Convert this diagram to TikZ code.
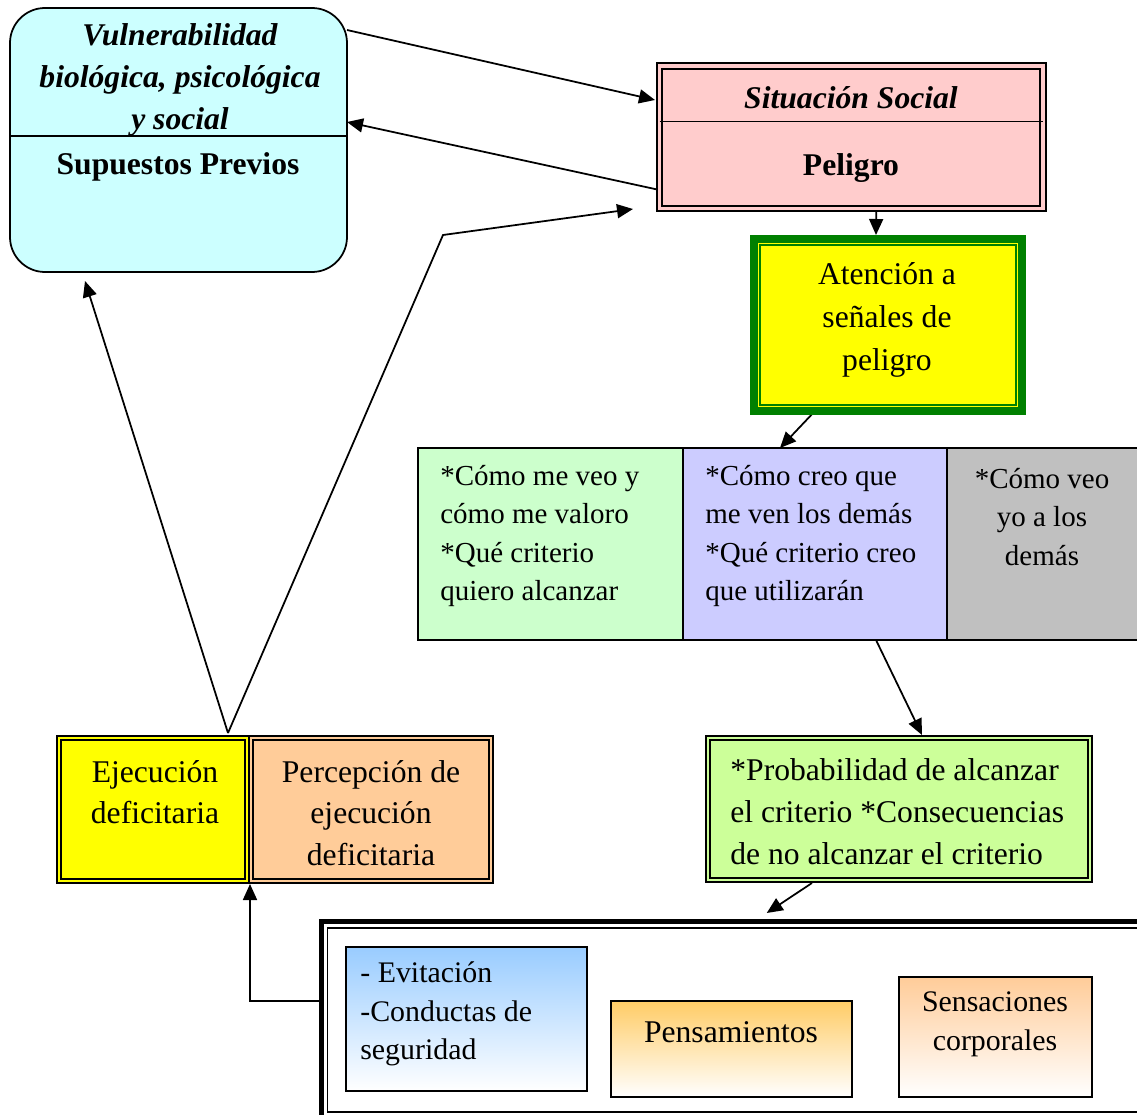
\documentclass[tikz,border=0pt]{standalone}
\usepackage{fontspec}
\setmainfont{Liberation Serif}
\usetikzlibrary{arrows.meta,calc}

\definecolor{vulnfill}{HTML}{CCFFFF}
\definecolor{socialfill}{HTML}{FFCCCC}
\definecolor{attnyellow}{HTML}{FFFF00}
\definecolor{attngreen}{HTML}{008000}
\definecolor{selffill}{HTML}{CCFFCC}
\definecolor{othersfill}{HTML}{CCCCFF}
\definecolor{viewfill}{HTML}{C0C0C0}
\definecolor{probfill}{HTML}{CCFF99}
\definecolor{execfill}{HTML}{FFFF00}
\definecolor{percfill}{HTML}{FFCC99}
\definecolor{avoidtop}{HTML}{99CCFF}
\definecolor{thinktop}{HTML}{FFCC66}
\definecolor{bodytop}{HTML}{FFCC99}

\pgfdeclarelayer{conn}
\pgfsetlayers{conn,main}

\begin{document}
\begin{tikzpicture}[x=0.02cm,y=-0.02cm,
  sz/.style 2 args={minimum width=#1*0.02cm,minimum height=#2*0.02cm},
  plainbox/.style={draw=black,line width=1pt,inner sep=0pt,outer sep=0pt},
  dblbox/.style={draw=black,fill=#1,double=#1,line width=1.2pt,
    double distance=0.065cm,inner sep=0pt,outer sep=0pt},
  gradbox/.style={draw=black,line width=0.9pt,top color=#1,bottom color=white,
    inner sep=0pt,outer sep=0pt},
  link/.style={draw=black,line width=1pt,
    -{Triangle[length=0.32cm,width=0.28cm]}},
  lbl/.style={font=\fontsize{18}{24}\selectfont,align=center,inner sep=0pt},
  lblsmall/.style={font=\fontsize{16.5}{22}\selectfont,inner sep=0pt},
]
\useasboundingbox (0,0) rectangle (1137,1115);
\clip (0,0) rectangle (1137,1115);

% ---- boxes ----
\node[plainbox,fill=vulnfill,rounded corners=0.7cm,sz={337}{264}] (A) at (178.5,140) {};
\draw[line width=0.8pt] ($(A.west)+(0,-4)$) -- ($(A.east)+(0,-4)$);
\node[lbl,font=\fontsize{18}{23.8}\selectfont\bfseries\itshape] (Atitle) at (180,80)
  {Vulnerabilidad\\biológica, psicológica\\y social};
\node[lbl,font=\fontsize{18}{24}\selectfont\bfseries] (Asub) at (178,167) {Supuestos Previos};

\node[dblbox=socialfill,sz={383.5}{142.5}] (B) at (851.25,137.25) {};
\draw[line width=0.8pt] ($(B.west)+(0,-16)$) -- ($(B.east)+(0,-16)$);
\node[lbl,font=\fontsize{18}{24}\selectfont\bfseries\itshape] (Btitle) at (851,98) {Situación Social};
\node[lbl,font=\fontsize{18}{24}\selectfont\bfseries] (Bsub) at (851,168) {Peligro};

\node[draw=attngreen,fill=attnyellow,line width=0.16cm,inner sep=0pt,outer sep=0pt,
  sz={268}{172}] (C) at (888,325) {};
\draw[draw=attngreen,line width=0.8pt] ($(C.north west)+(6,6)$) rectangle ($(C.south east)+(-6,-6)$);
\node[lbl,font=\fontsize{18}{24.4}\selectfont] (Ctext) at (887,320) {Atención a\\señales de\\peligro};

\node[plainbox,fill=selffill,sz={265}{192}] (D1) at (550.5,544) {};
\node[plainbox,fill=othersfill,sz={264}{192}] (D2) at (815,544) {};
\node[plainbox,fill=viewfill,sz={200}{192}] (D3) at (1047,544) {};
\node[lblsmall,anchor=west,align=left] (D1text) at (440,536)
  {*Cómo me veo y\\cómo me valoro\\*Qué criterio\\quiero alcanzar};
\node[lblsmall,anchor=west,align=left] (D2text) at (705,536)
  {*Cómo creo que\\me ven los demás\\*Qué criterio creo\\que utilizarán};
\node[lblsmall,align=center] (D3text) at (1042,517) {*Cómo veo\\yo a los\\demás};

\node[dblbox=probfill,line width=0.9pt,double distance=0.05cm,sz={382}{142}] (E) at (899,809) {};
\node[lbl,anchor=west,align=left,font=\fontsize{18}{24}\selectfont] (Etext) at (730,812)
  {*Probabilidad de alcanzar\\el criterio *Consecuencias\\de no alcanzar el criterio};

\node[dblbox=execfill,line width=1pt,double distance=0.05cm,sz={188}{143}] (G) at (153,809.5) {};
\node[dblbox=percfill,line width=1pt,double distance=0.05cm,sz={240}{143}] (H) at (371,809.5) {};
\node[lbl,font=\fontsize{18}{23.3}\selectfont] (Gtext) at (155,792) {Ejecución\\deficitaria};
\node[lbl,font=\fontsize{18}{23.6}\selectfont] (Htext) at (371,813) {Percepción de\\ejecución\\deficitaria};

\node[draw=black,line width=0.1cm,fill=white,inner sep=0pt,outer sep=0pt,sz={838.5}{199}] (F) at (740.75,1020.5) {};
\draw[line width=0.6pt] ($(F.north west)+(6,7)$) rectangle ($(F.south east)+(-6,-8)$);
\node[gradbox=avoidtop,sz={241}{144}] (F1) at (466.5,1019) {};
\node[gradbox=thinktop,sz={241}{96}] (F2) at (731.5,1049) {};
\node[gradbox=bodytop,sz={193}{120}] (F3) at (995.5,1037) {};
\node[lblsmall,anchor=west,align=left,font=\fontsize{17}{22}\selectfont] (F1text) at (360,1014)
  {- Evitación\\-Conductas de\\seguridad};
\node[lbl,font=\fontsize{18}{24}\selectfont] (F2text) at (731,1032) {Pensamientos};
\node[lbl,font=\fontsize{17}{22}\selectfont] (F3text) at (995,1024) {Sensaciones\\corporales};

% ---- connectors ----
\begin{pgfonlayer}{conn}
\coordinate (kink) at (443,235);
\draw[link] ($(A.north east)+(0,22)$) -- ($(B.north west)+(-4.5,34)$);
\draw[link] ($(B.south west)+(0,-18.5)$) -- ($(A.north east)+(0,114)$);
\draw[link] ($(G.north east)+(-19,-5)$) -- (kink) -- ($(B.south west)+(-26.5,0.5)$);
\draw[link] ($(G.north east)+(-19,-5)$) -- ($(A.south west)+(75,9)$);
\draw[link] ($(B.south)+(25,0)$) -- ($(C.north)+(-12,-4)$);
\draw[link] ($(C.south)+(-73,0)$) -- ($(D2.north)+(-35,0)$);
\draw[link] ($(D2.south)+(61,0)$) -- ($(E.north)+(23,-3)$);
\draw[link] ($(E.south)+(-87,3)$) -- ($(F.north)+(26,-8)$);
\draw[link] ($(F.west)+(0,-19.5)$) -| ($(G.south east)+(3,3)$);
\end{pgfonlayer}
\end{tikzpicture}
\end{document}
